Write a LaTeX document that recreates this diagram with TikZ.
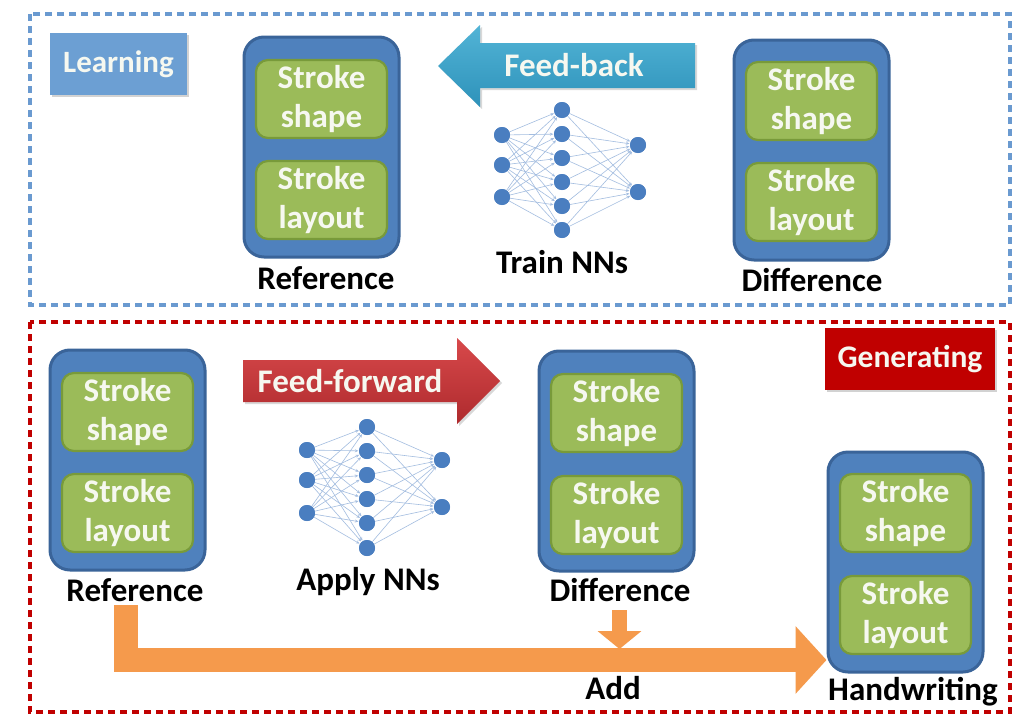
\documentclass[tikz,border=0pt]{standalone}
\usepackage{fontspec}
\setmainfont{Carlito}
\usetikzlibrary{arrows.meta,shadows}

\definecolor{frameblue}{HTML}{6A9AD0}
\definecolor{framered}{HTML}{C00000}
\definecolor{boxblue}{HTML}{4F81BD}
\definecolor{boxblueedge}{HTML}{3A6499}
\definecolor{boxgreen}{HTML}{9BBB59}
\definecolor{boxgreenedge}{HTML}{789A3A}
\definecolor{paletext}{HTML}{F6F8F0}
\definecolor{learnfill}{HTML}{6C9FD3}
\definecolor{genfill}{HTML}{C00000}
\definecolor{fbtop}{HTML}{52B4D6}
\definecolor{fbbot}{HTML}{2E92BA}
\definecolor{fftop}{HTML}{D8494B}
\definecolor{ffbot}{HTML}{AE2A2D}
\definecolor{addorange}{HTML}{F59A4C}
\definecolor{neuron}{HTML}{4A7EC0}
\definecolor{synapse}{HTML}{A3BDE0}

\tikzset{
  txt/.style={font=\fontsize{33}{39}\selectfont\bfseries},
  framebox/.style={line width=3.5pt, dash pattern=on 7pt off 5pt},
  outerbox/.style={draw=boxblueedge, fill=boxblue, line width=3pt,
    rounded corners=20pt, minimum width=155pt, minimum height=220pt},
  innerbox/.style={draw=boxgreenedge, fill=boxgreen, line width=2.2pt,
    rounded corners=12pt, minimum width=131pt, minimum height=78pt,
    txt, text=paletext, align=center, inner sep=0pt},
  caption/.style={txt, text=black, inner sep=0pt},
  phasetag/.style={txt, text=paletext, inner sep=0pt,
    drop shadow={opacity=0.35, shadow xshift=2pt, shadow yshift=-2pt}},
  neuronnode/.style={circle, fill=neuron, minimum size=16pt, inner sep=0pt},
  synapseline/.style={draw=synapse, line width=0.6pt,
    -{Stealth[length=3.5pt,width=3pt]}, shorten >=0.5pt},
  addarrow/.style={draw=addorange, line join=miter},
}

\begin{document}
\begin{tikzpicture}[x=1pt,y=-1pt]
\useasboundingbox (0,0) rectangle (1023,715);
\fill[white] (0,0) rectangle (1023,715);

% phase frames
\draw[framebox, draw=frameblue] (30,14) rectangle (1010,305);
\draw[framebox, draw=framered] (30,322) rectangle (1010,712);

% phase tags
\node[phasetag, fill=learnfill, minimum width=137pt, minimum height=62pt]
  (learning) at (118.5,64) {\fontsize{31}{36}\selectfont Learning};
\node[phasetag, fill=genfill, minimum width=170pt, minimum height=62pt]
  (generating) at (910,359) {\fontsize{31.5}{36}\selectfont Generating};

% stroke blocks: outer container with shape and layout parts
\node[outerbox] (refA) at (321.5,147) {};
\node[innerbox] (refAs) at (321.5,99) {Stroke\\shape};
\node[innerbox] (refAl) at (321.5,200) {Stroke\\layout};
\node[caption] (refAcap) at (326,278) {Reference};

\node[outerbox] (difA) at (811.5,150) {};
\node[innerbox] (difAs) at (811.5,101) {Stroke\\shape};
\node[innerbox] (difAl) at (811.5,202) {Stroke\\layout};
\node[caption] (difAcap) at (812,280) {Difference};

\node[outerbox] (refB) at (127.5,460) {};
\node[innerbox] (refBs) at (127.5,412) {Stroke\\shape};
\node[innerbox] (refBl) at (127.5,513) {Stroke\\layout};
\node[caption] (refBcap) at (135,590) {Reference};

\node[outerbox] (difB) at (616.5,461) {};
\node[innerbox] (difBs) at (616.5,413) {Stroke\\shape};
\node[innerbox] (difBl) at (616.5,515) {Stroke\\layout};
\node[caption] (difBcap) at (620,590) {Difference};

\node[outerbox] (hw) at (905.5,562) {};
\node[innerbox] (hws) at (905.5,513) {Stroke\\shape};
\node[innerbox] (hwl) at (905.5,615) {Stroke\\layout};
\node[caption] (hwcap) at (913,692) {Handwriting};

% feed-back arrow
\path[top color=fbtop, bottom color=fbbot,
  drop shadow={opacity=0.3, shadow xshift=2pt, shadow yshift=-2pt}]
  (695,43) -- (480,43) -- (480,25) -- (438,66) -- (480,107) -- (480,88)
  -- (695,88) -- cycle;
\node[txt, text=paletext, inner sep=0pt] (fbtext) at (574,65) {Feed-back};

% feed-forward arrow
\path[top color=fftop, bottom color=ffbot,
  drop shadow={opacity=0.3, shadow xshift=2pt, shadow yshift=-2pt}]
  (243,360) -- (457,360) -- (457,338) -- (500,381) -- (457,424) -- (457,402)
  -- (243,402) -- cycle;
\node[txt, text=paletext, inner sep=0pt] (fftext) at (350,381) {Feed-forward};

% training network: neurons, synapses, then neurons again on top
\foreach \i/\y in {1/135,2/165,3/197} \node[neuronnode] (ti\i) at (502,\y) {};
\foreach \i/\y in {1/110,2/134,3/158,4/182,5/206,6/230} \node[neuronnode] (th\i) at (562,\y) {};
\foreach \i/\y in {1/145,2/192} \node[neuronnode] (to\i) at (638,\y) {};
\foreach \a in {1,2,3} \foreach \b in {1,...,6} \draw[synapseline] (ti\a) -- (th\b);
\foreach \a in {1,...,6} \foreach \b in {1,2} \draw[synapseline] (th\a) -- (to\b);
\foreach \i/\y in {1/135,2/165,3/197} \node[neuronnode] at (502,\y) {};
\foreach \i/\y in {1/110,2/134,3/158,4/182,5/206,6/230} \node[neuronnode] at (562,\y) {};
\foreach \i/\y in {1/145,2/192} \node[neuronnode] at (638,\y) {};
\node[caption] (traincap) at (562,262) {Train NNs};

% applied network
\foreach \i/\y in {1/450,2/480,3/513} \node[neuronnode] (ai\i) at (307,\y) {};
\foreach \i/\y in {1/427,2/451,3/475,4/499,5/523,6/548} \node[neuronnode] (ah\i) at (367,\y) {};
\foreach \i/\y in {1/460,2/507} \node[neuronnode] (ao\i) at (442,\y) {};
\foreach \a in {1,2,3} \foreach \b in {1,...,6} \draw[synapseline] (ai\a) -- (ah\b);
\foreach \a in {1,...,6} \foreach \b in {1,2} \draw[synapseline] (ah\a) -- (ao\b);
\foreach \i/\y in {1/450,2/480,3/513} \node[neuronnode] at (307,\y) {};
\foreach \i/\y in {1/427,2/451,3/475,4/499,5/523,6/548} \node[neuronnode] at (367,\y) {};
\foreach \i/\y in {1/460,2/507} \node[neuronnode] at (442,\y) {};
\node[caption] (applycap) at (368,582) {Apply NNs};

% addition of reference and difference
\coordinate (addstart) at (125.5,605);
\coordinate (hwin) at (hw.west |- 0,660);
\draw[addarrow, line width=24pt, -{Triangle[length=31pt,width=66pt]}]
  (addstart) |- (hwin);
\coordinate (difdown) at (619.5,610);
\coordinate (difjoin) at (619.5,649);
\draw[addarrow, line width=15pt, -{Triangle[length=18pt,width=43pt]}]
  (difdown) -- (difjoin);
\node[caption] (addcap) at (613,688) {Add};
\end{tikzpicture}
\end{document}
